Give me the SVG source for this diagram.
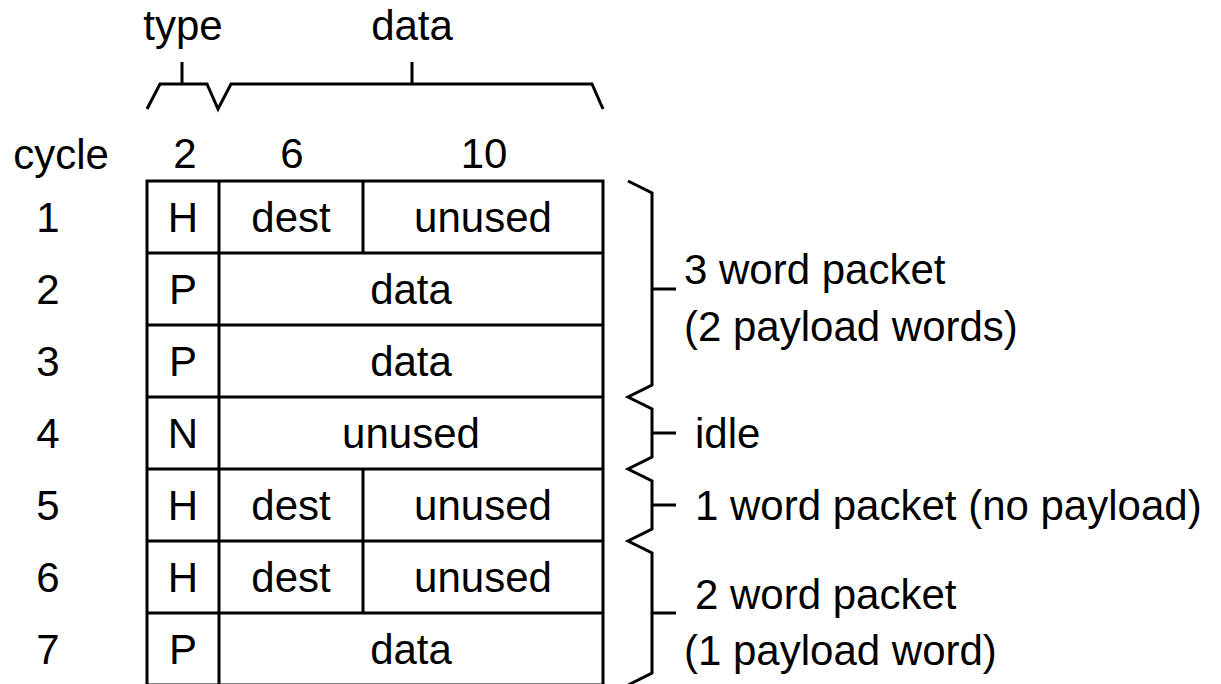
<svg xmlns="http://www.w3.org/2000/svg" width="1221" height="684" viewBox="0 0 1221 684">
  <style>
    text { font-family: "Liberation Sans", Arial, sans-serif; font-size: 42px; fill: #000; }
    .c { text-anchor: middle; }
    .line { fill: none; stroke: #000; stroke-width: 3; stroke-linejoin: miter; stroke-linecap: butt; }
  </style>
  <rect width="1221" height="684" fill="#fff"/>

  <!-- field width braces above the table -->
  <g id="field-braces">
    <path class="line" d="M147,109 L160,84 L207,84 L218,109 L231,84 L592,84 L603,109"/>
    <path class="line" d="M182,62 L182,84 M412,62 L412,84"/>
    <text class="c" x="183" y="40">type</text>
    <text class="c" x="412" y="40">data</text>
  </g>

  <!-- header row: bit counts -->
  <g id="header">
    <text class="c" x="61" y="169">cycle</text>
    <text class="c" x="185" y="168">2</text>
    <text class="c" x="292" y="168">6</text>
    <text class="c" x="484" y="168">10</text>
  </g>

  <!-- the packet table -->
  <g id="table">
    <rect class="line" x="147" y="181" width="456" height="504"/>
    <path class="line" d="M147,253 H603 M147,325 H603 M147,397 H603 M147,469 H603 M147,541 H603 M147,613 H603"/>
    <path class="line" d="M219,181 V685"/>
    <path class="line" d="M363,181 V253 M363,469 V613"/>
  </g>

  <g id="row1"><text class="c" x="48" y="232">1</text><text class="c" x="183" y="232">H</text><text class="c" x="291" y="232">dest</text><text class="c" x="483" y="232">unused</text></g>
  <g id="row2"><text class="c" x="48" y="304">2</text><text class="c" x="183" y="304">P</text><text class="c" x="411" y="304">data</text></g>
  <g id="row3"><text class="c" x="48" y="376">3</text><text class="c" x="183" y="376">P</text><text class="c" x="411" y="376">data</text></g>
  <g id="row4"><text class="c" x="48" y="448">4</text><text class="c" x="183" y="448">N</text><text class="c" x="411" y="448">unused</text></g>
  <g id="row5"><text class="c" x="48" y="520">5</text><text class="c" x="183" y="520">H</text><text class="c" x="291" y="520">dest</text><text class="c" x="483" y="520">unused</text></g>
  <g id="row6"><text class="c" x="48" y="592">6</text><text class="c" x="183" y="592">H</text><text class="c" x="291" y="592">dest</text><text class="c" x="483" y="592">unused</text></g>
  <g id="row7"><text class="c" x="48" y="664">7</text><text class="c" x="183" y="664">P</text><text class="c" x="411" y="664">data</text></g>

  <!-- grouping braces on the right -->
  <g id="connectors">
    <path class="line" d="M628,181 L652,193 L652,385 L628,397 L652,409 L652,457 L628,469 L652,481 L652,529 L628,541 L652,553 L652,673 L628,685"/>
    <path class="line" d="M652,289 H676 M652,433 H676 M652,505 H676 M652,613 H676"/>
  </g>

  <g id="label-3word"><text x="684" y="284">3 word packet</text><text x="684" y="341">(2 payload words)</text></g>
  <g id="label-idle"><text x="695" y="448">idle</text></g>
  <g id="label-1word"><text x="695" y="520">1 word packet (no payload)</text></g>
  <g id="label-2word"><text x="695" y="609">2 word packet</text><text x="684" y="665">(1 payload word)</text></g>
</svg>
